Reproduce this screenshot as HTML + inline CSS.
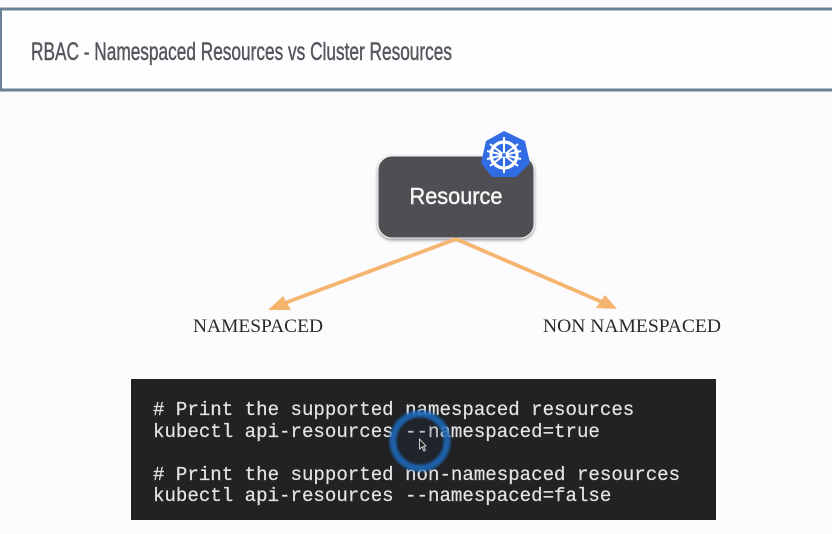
<!DOCTYPE html>
<html><head><meta charset="utf-8"><style>
html,body{margin:0;padding:0;background:#fcfcfe;width:832px;height:534px;overflow:hidden}
svg{display:block}
</style></head><body>
<svg width="832" height="534" viewBox="0 0 832 534" xmlns="http://www.w3.org/2000/svg">
<defs>
<filter id="s" x="-20%" y="-20%" width="140%" height="150%"><feDropShadow dx="0" dy="1.5" stdDeviation="1.5" flood-color="#000" flood-opacity=".45"/></filter>
<filter id="b"><feGaussianBlur stdDeviation=".35"/></filter>
<filter id="b2"><feGaussianBlur stdDeviation="1.2"/></filter>
</defs>
<rect width="832" height="534" fill="#fcfcfe"/>
<rect x="0.5" y="9" width="840" height="81" fill="#fdfeff" stroke="#6b8296" stroke-width="3"/>
<text x="31" y="60" font-family="Liberation Sans, sans-serif" font-size="25" fill="#55565a" stroke="#55565a" stroke-width=".45" textLength="421" lengthAdjust="spacingAndGlyphs" filter="url(#b)">RBAC - Namespaced Resources vs Cluster Resources</text>

<rect x="378" y="156" width="156" height="82" rx="14" fill="#504f52" stroke="#f4f4f4" stroke-width="1" filter="url(#s)"/>
<text x="456" y="204" text-anchor="middle" font-family="Liberation Sans, sans-serif" font-size="23" fill="#f6f6f6" stroke="#f6f6f6" stroke-width=".45" textLength="93" lengthAdjust="spacingAndGlyphs">Resource</text>

<polygon points="504,131 525,141 530,163 516,177 492,177 481,163 486,141" fill="#326ce5"/>
<g stroke="#fff" fill="none">
<circle cx="504" cy="155" r="13" stroke-width="3.2"/>
<g stroke-width="2">
<line x1="504" y1="137" x2="504" y2="173"/>
<line x1="490" y1="144" x2="518" y2="166"/>
<line x1="518" y1="144" x2="490" y2="166"/>
<line x1="487" y1="159" x2="521" y2="151"/>
<line x1="521" y1="159" x2="487" y2="151"/>
</g>
</g>
<circle cx="504" cy="155" r="2.4" fill="#326ce5" stroke="#fff" stroke-width="1"/>

<g stroke="#f5b56f" stroke-width="3.8" fill="none">
<line x1="456" y1="239" x2="285" y2="303"/>
<line x1="456" y1="239" x2="602" y2="302"/>
</g>
<polygon points="268,310 283,296 291,310" fill="#f5b56f"/>
<polygon points="617,309 605,295 596,308" fill="#f5b56f"/>

<text x="193" y="332" font-family="Liberation Serif, serif" font-size="19" fill="#2a2a2c" textLength="130" lengthAdjust="spacingAndGlyphs">NAMESPACED</text>
<text x="543" y="332" font-family="Liberation Serif, serif" font-size="19" fill="#2a2a2c" textLength="178" lengthAdjust="spacingAndGlyphs">NON NAMESPACED</text>

<rect x="131" y="379" width="585" height="141" fill="#222124"/>
<g font-family="Liberation Mono, monospace" font-size="19.1" fill="#e4e4e4" stroke="#e4e4e4" stroke-width=".2" filter="url(#b)">
<text x="153" y="415" xml:space="preserve"># Print the supported namespaced resources</text>
<text x="153" y="437" xml:space="preserve">kubectl api-resources --namespaced=true</text>
<text x="153" y="480" xml:space="preserve"># Print the supported non-namespaced resources</text>
<text x="153" y="501" xml:space="preserve">kubectl api-resources --namespaced=false</text>
</g>

<circle cx="420" cy="441" r="27" fill="none" stroke="#1d68b8" stroke-width="7" opacity=".9" filter="url(#b2)"/>
<circle cx="420" cy="441" r="21" fill="#1f3550" opacity=".22" filter="url(#b2)"/>
<polygon points="419.5,439 419.5,449 422,447 424,451 425.5,450 423.5,446.5 426,446" fill="#222" stroke="#ddd" stroke-width=".9"/>
</svg>
</body></html>
